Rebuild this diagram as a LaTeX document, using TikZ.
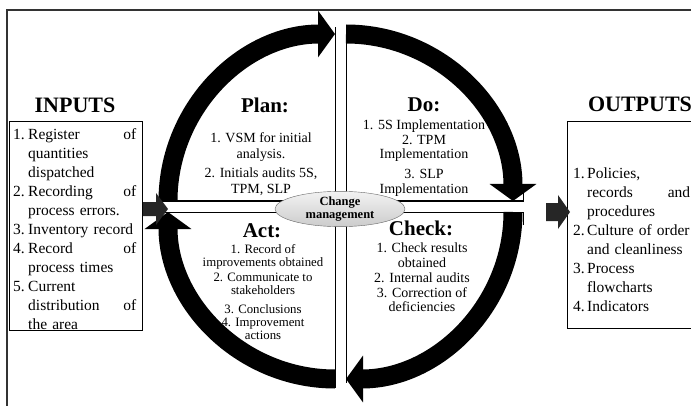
\documentclass[tikz,border=0pt]{standalone}
\usepackage{fontspec}
\setmainfont{Liberation Serif}
\usetikzlibrary{arrows.meta,shapes.geometric}

\newcommand\numitem[2]{\par\noindent\hangindent=#2\hangafter=1\makebox[#2][l]{#1}}

\tikzset{
  cyclearrow/.style={line width=19pt,-{Triangle[width=46pt,length=17pt]}},
  quadline/.style={line width=1pt},
  blockarrow/.style={fill=black!85},
  headtitle/.style={font=\fontsize{22}{24}\selectfont\bfseries},
  phasetitle/.style={font=\fontsize{21}{24}\selectfont\bfseries},
  listtext/.style={font=\fontsize{15.5}{19}\selectfont,align=left,inner sep=0pt},
  changebox/.style={ellipse,draw=black!60,top color=gray!10,bottom color=gray!40,
    minimum width=130pt,minimum height=34pt,inner sep=0pt,align=center,
    font=\fontsize{12.5}{13.5}\selectfont\bfseries}
}

\begin{document}
\begin{tikzpicture}[x=1pt,y=1pt]
  \useasboundingbox (0,0) rectangle (691,405);
  \clip (0,0) rectangle (691,405);
  % outer frame
  \draw[line width=1.5pt,black!80] (7,-5) -- (7,395) -- (700,395);

  % inputs
  \node[headtitle] (inputs) at (75,300) {INPUTS};
  \draw[quadline] (9,75) rectangle (142,283);
  \node[listtext,text width=123pt,anchor=west] (inlist) at (13,180) {%
    \numitem{1.}{15pt}Register\hfill of\newline quantities\newline dispatched
    \numitem{2.}{15pt}Recording\hfill of\newline process errors.
    \numitem{3.}{15pt}Inventory record
    \numitem{4.}{15pt}Record\hfill of\newline process times
    \numitem{5.}{15pt}Current\newline distribution\hfill of\newline the area\par};

  % outputs
  \node[headtitle] (outputs) at (640,301) {OUTPUTS};
  \draw[quadline] (567,77) rectangle (700,283);
  \node[listtext,text width=117pt,anchor=west] (outlist) at (573,169.5) {%
    \numitem{1.}{14pt}Policies,\newline records\hfill and\newline procedures
    \numitem{2.}{14pt}Culture of order\newline and cleanliness
    \numitem{3.}{14pt}Process\newline flowcharts
    \numitem{4.}{14pt}Indicators\par};

  % quadrant edges
  \draw[quadline] (160,204) -- (335,204) -- (335,378);
  \draw[quadline] (346,380) -- (346,204) -- (523,204) -- (523,218);
  \draw[quadline] (163,193) -- (335,193) -- (335,17);
  \draw[quadline] (523,180) -- (523,193) -- (346,193) -- (346,22);

  % cycle arrows
  \draw[cyclearrow] (168,204) arc[start angle=180,end angle=90,radius=167];
  \draw[cyclearrow] (346,371) arc[start angle=90,end angle=0,radius=167];
  \draw[cyclearrow] (513,193) arc[start angle=0,end angle=-90,radius=167];
  \draw[cyclearrow] (335,26) arc[start angle=270,end angle=180,radius=167];

  % in and out arrows
  \fill[blockarrow] (143,189) -- (156,189) -- (156,180) -- (168,196)
    -- (156,212) -- (156,203) -- (143,203) -- cycle;
  \fill[blockarrow] (546,184) -- (558,184) -- (558,176) -- (570,193)
    -- (558,210) -- (558,202) -- (546,202) -- cycle;

  % phases
  \node[phasetitle] (plan) at (265,300) {Plan:};
  \node[font=\fontsize{14}{16}\selectfont,align=center] (plantext) at (261,241)
    {1. VSM for initial\\analysis.\\[3pt]2. Initials audits 5S,\\TPM, SLP};
  \node[phasetitle] (do) at (424,300) {Do:};
  \node[font=\fontsize{14}{14.8}\selectfont,align=center] (dotext) at (424,247)
    {1. 5S Implementation\\2. TPM\\Implementation\\[5pt]3. SLP\\Implementation};
  \node[phasetitle] (act) at (262,174) {Act:};
  \node[font=\fontsize{12.8}{13}\selectfont,align=center] (acttext) at (263,112.5)
    {1. Record of\\improvements obtained\\[2pt]2. Communicate to\\stakeholders\\[6pt]%
     3. Conclusions\\4. Improvement\\actions};
  \node[phasetitle] (check) at (421,177) {Check:};
  \node[font=\fontsize{14}{14.8}\selectfont,align=center] (checktext) at (422,127.5)
    {1. Check results\\obtained\\2. Internal audits\\3. Correction of\\deficiencies};

  \node[changebox] (change) at (340,196) {Change\\management};
\end{tikzpicture}
\end{document}
